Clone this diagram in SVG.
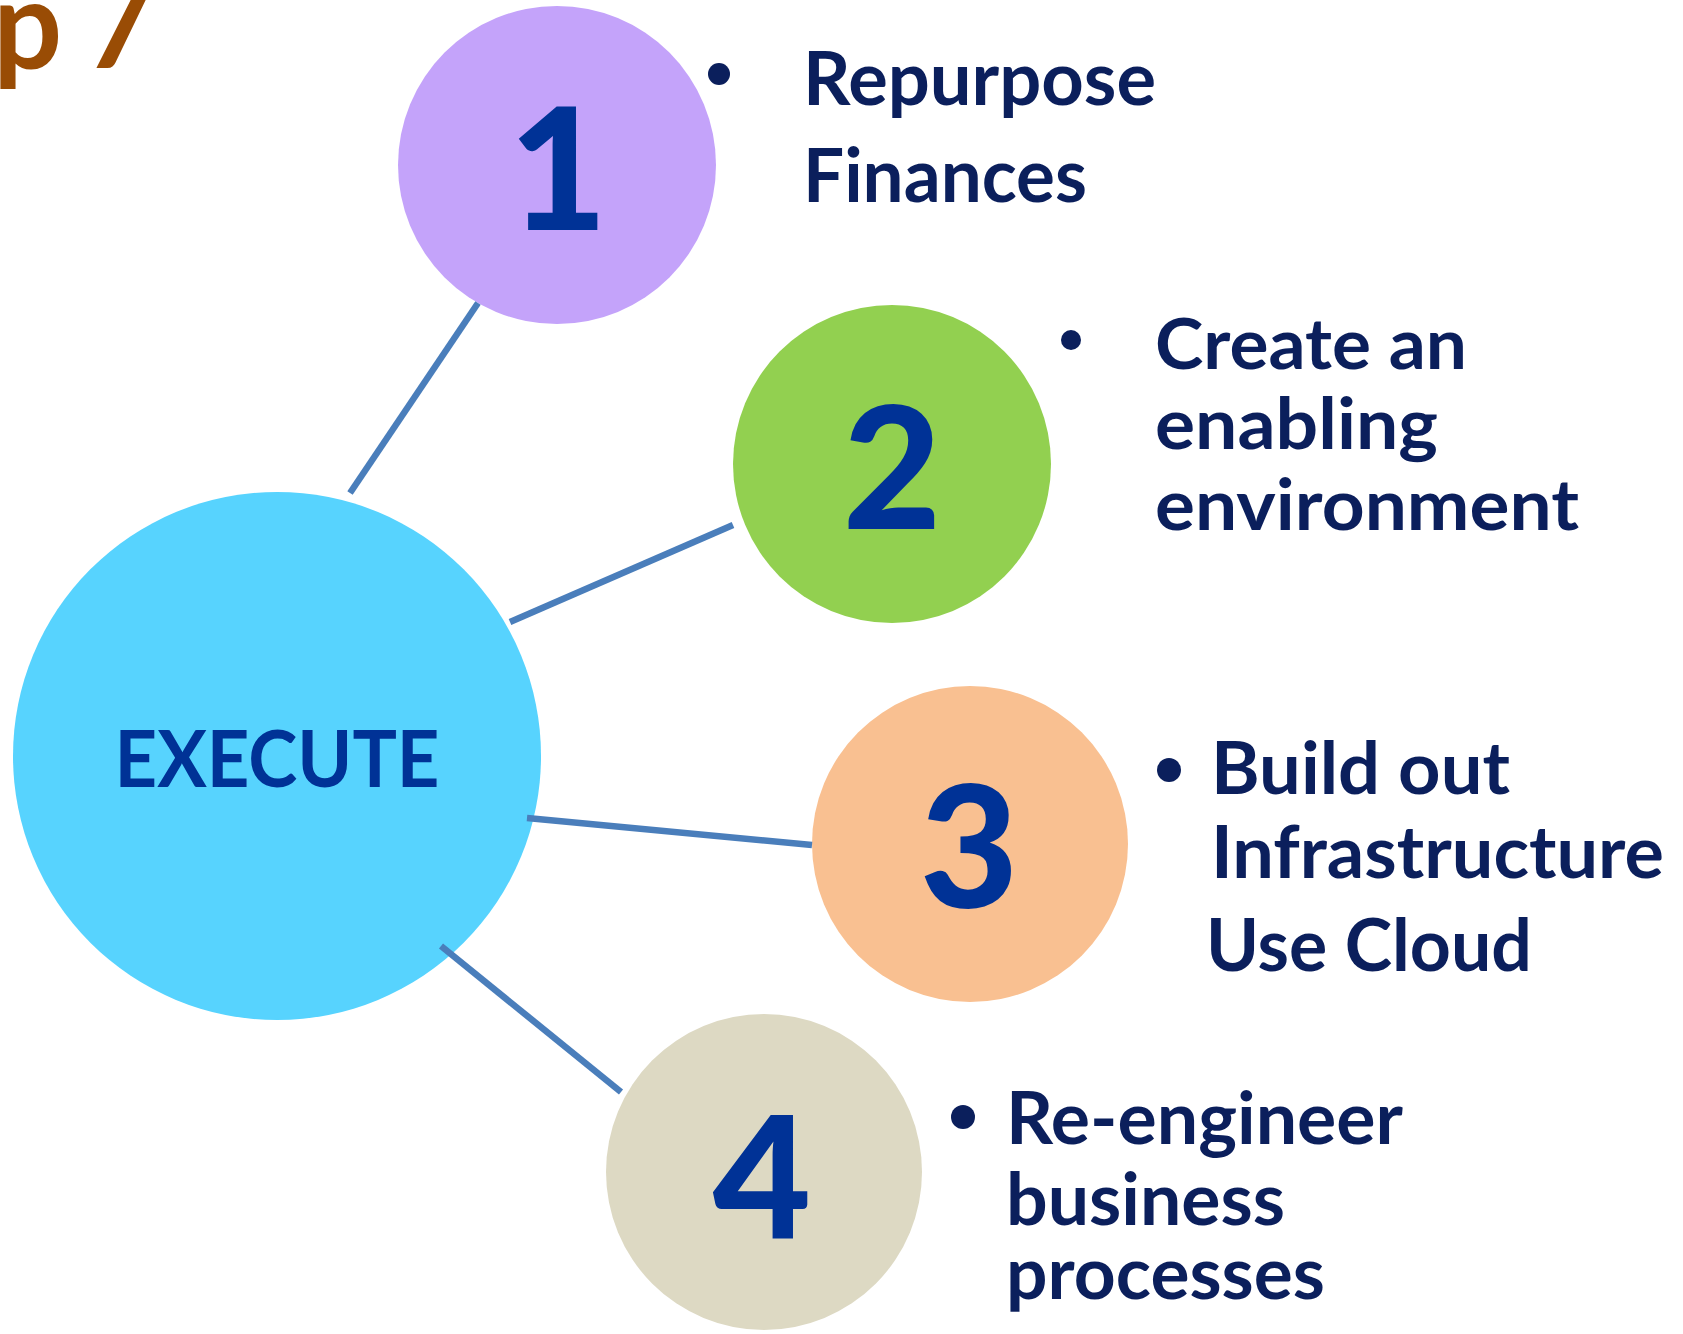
<svg xmlns="http://www.w3.org/2000/svg" width="1683" height="1334" viewBox="0 0 1683 1334">
<style>
.num{font-family:Lato,"Liberation Sans",sans-serif;font-weight:900;font-size:170px;fill:#003296;text-anchor:middle}
.lbl{font-family:Lato,"Liberation Sans",sans-serif;font-weight:bold;fill:#0B1F5C}
.conn{stroke:#4A7EBB;stroke-width:6.5;fill:none}
.dot{fill:#0B1F5C}
</style>
<rect width="1683" height="1334" fill="#FFFFFF"/>
<text x="-7" y="68" font-family="Lato,'Liberation Sans',sans-serif" font-weight="bold" font-size="122" fill="#994C05">p<tspan x="84">7</tspan></text>
<g id="execute">
<circle cx="277" cy="756" r="264" fill="#57D3FE"/>
<text x="277" y="787" font-family="Lato,'Liberation Sans',sans-serif" font-weight="bold" font-size="79" fill="#003296" text-anchor="middle" textLength="325" lengthAdjust="spacingAndGlyphs">EXECUTE</text>
</g>
<g id="node1">
<circle cx="557" cy="165" r="159" fill="#C4A3FA"/>
<text class="num" x="558" y="230">1</text>
<circle class="dot" cx="719" cy="74" r="11"/>
<text class="lbl" font-size="75" x="803" y="105" textLength="353" lengthAdjust="spacingAndGlyphs">Repurpose</text>
<text class="lbl" font-size="75" x="803" y="202" textLength="284" lengthAdjust="spacingAndGlyphs">Finances</text>
</g>
<g id="node2">
<circle cx="892" cy="464" r="159" fill="#92D050"/>
<text class="num" x="892" y="529">2</text>
<circle class="dot" cx="1071" cy="340" r="10"/>
<text class="lbl" font-size="71" x="1155" y="369" textLength="312" lengthAdjust="spacingAndGlyphs">Create an</text>
<text class="lbl" font-size="71" x="1155" y="449" textLength="283" lengthAdjust="spacingAndGlyphs">enabling</text>
<text class="lbl" font-size="71" x="1155" y="530" textLength="424" lengthAdjust="spacingAndGlyphs">environment</text>
</g>
<g id="node3">
<circle cx="970" cy="844" r="158" fill="#F9C091"/>
<text class="num" x="969" y="908">3</text>
<circle class="dot" cx="1169" cy="770" r="12"/>
<text class="lbl" font-size="72" x="1211" y="794" textLength="299" lengthAdjust="spacingAndGlyphs">Build out</text>
<text class="lbl" font-size="72" x="1211" y="878" textLength="453" lengthAdjust="spacingAndGlyphs">Infrastructure</text>
<text class="lbl" font-size="72" x="1206" y="971" textLength="326" lengthAdjust="spacingAndGlyphs">Use Cloud</text>
</g>
<g id="node4">
<circle cx="764" cy="1172" r="158" fill="#DDD9C3"/>
<text class="num" x="762" y="1238">4</text>
<circle class="dot" cx="963" cy="1117" r="12"/>
<text class="lbl" font-size="72" x="1006" y="1144" textLength="397" lengthAdjust="spacingAndGlyphs">Re-engineer</text>
<text class="lbl" font-size="72" x="1006" y="1225" textLength="279" lengthAdjust="spacingAndGlyphs">business</text>
<text class="lbl" font-size="72" x="1006" y="1299" textLength="319" lengthAdjust="spacingAndGlyphs">processes</text>
</g>
<g id="connectors">
<line class="conn" x1="478" y1="303" x2="350" y2="493"/>
<line class="conn" x1="733" y1="525" x2="510" y2="622"/>
<line class="conn" x1="527" y1="818" x2="812" y2="845"/>
<line class="conn" x1="441" y1="946" x2="621" y2="1092"/>
</g>
</svg>
